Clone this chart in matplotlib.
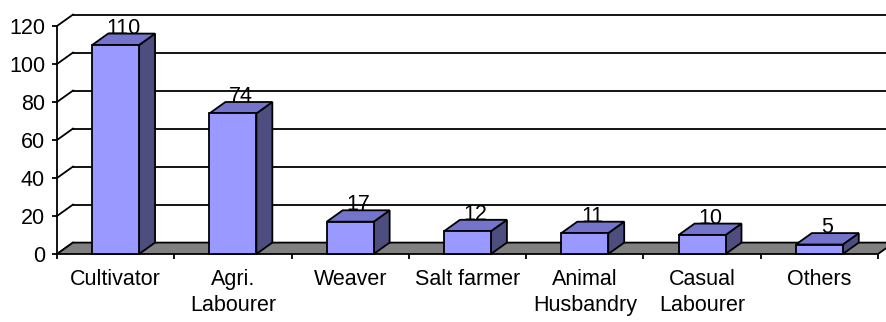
import matplotlib
matplotlib.use('Agg')
import matplotlib.pyplot as plt
from matplotlib.patches import Polygon

# ── Data ───────────────────────────────────────────────────────────────────────
categories = ['Cultivator', 'Agri.\nLabourer', 'Weaver', 'Salt farmer',
              'Animal\nHusbandry', 'Casual\nLabourer', 'Others']
counts = [110, 74, 17, 12, 11, 10, 5]
y_ticks = [0, 20, 40, 60, 80, 100, 120]

# ── Style ──────────────────────────────────────────────────────────────────────
FRONT = '#9999ff'
TOP = '#7474cc'
SIDE = '#4d4d80'
FLOOR = '#808080'
LW = 1.3
FONT = 'Liberation Sans'
FS = 15.5

DX = 0.136      # depth offset along x, in category units
DY = 6.0        # depth offset along y, in value units
BAR_W = 0.40
X_RIGHT = 7.2   # back wall runs off the right edge

fig = plt.figure(figsize=(8.86, 3.22), dpi=100)
ax = fig.add_axes([57 / 886, 68 / 322, 821 / 886, 228 / 322])
ax.set_xlim(0, len(categories))
ax.set_ylim(0, 120)

for s in ['top', 'right', 'bottom']:
    ax.spines[s].set_visible(False)
ax.spines['left'].set_linewidth(LW)
ax.spines['left'].set_zorder(6)

# back wall gridlines and side wall diagonals
for y in y_ticks:
    ax.plot([0, DX], [y, y + DY], color='black', lw=LW, clip_on=False, zorder=1)
    ax.plot([DX, X_RIGHT], [y + DY, y + DY], color='black', lw=LW,
            clip_on=False, zorder=1)

# floor
n = len(categories)
floor = Polygon([(0, 0), (n, 0), (n + DX, DY), (DX, DY)], closed=True,
                facecolor=FLOOR, edgecolor='black', lw=LW, clip_on=False, zorder=2)
ax.add_patch(floor)

# 3D bars
for i, v in enumerate(counts):
    x0 = i + 0.5 - BAR_W / 2
    x1 = i + 0.5 + BAR_W / 2
    side = Polygon([(x1, 0), (x1 + DX, DY), (x1 + DX, v + DY), (x1, v)],
                   facecolor=SIDE, edgecolor='black', lw=LW, clip_on=False, zorder=3)
    top = Polygon([(x0, v), (x1, v), (x1 + DX, v + DY), (x0 + DX, v + DY)],
                  facecolor=TOP, edgecolor='black', lw=LW, clip_on=False, zorder=3)
    front = Polygon([(x0, 0), (x1, 0), (x1, v), (x0, v)],
                    facecolor=FRONT, edgecolor='black', lw=LW, clip_on=False, zorder=4)
    for p in (side, top, front):
        ax.add_patch(p)
    ax.text(i + 0.5 + DX / 2, v + DY, str(v), ha='center', va='baseline',
            fontsize=FS, family=FONT, zorder=5)

# y axis ticks
ax.set_yticks(y_ticks)
ax.set_yticklabels([str(t) for t in y_ticks], family=FONT, fontsize=FS)
ax.tick_params(axis='y', direction='out', length=3.6, width=LW, pad=5)

# x axis: boundary ticks, labels at category centres
ax.set_xticks(range(n + 1))
ax.set_xticklabels([])
ax.set_xticks([i + 0.5 for i in range(n)], minor=True)
ax.set_xticklabels(categories, minor=True, family=FONT, fontsize=FS,
                   linespacing=1.3, va='top')
ax.tick_params(axis='x', which='major', direction='out', length=3.6, width=LW)
ax.tick_params(axis='x', which='minor', length=0, pad=11)

ax.patch.set_alpha(0)
fig.savefig('out.png', dpi=100)
